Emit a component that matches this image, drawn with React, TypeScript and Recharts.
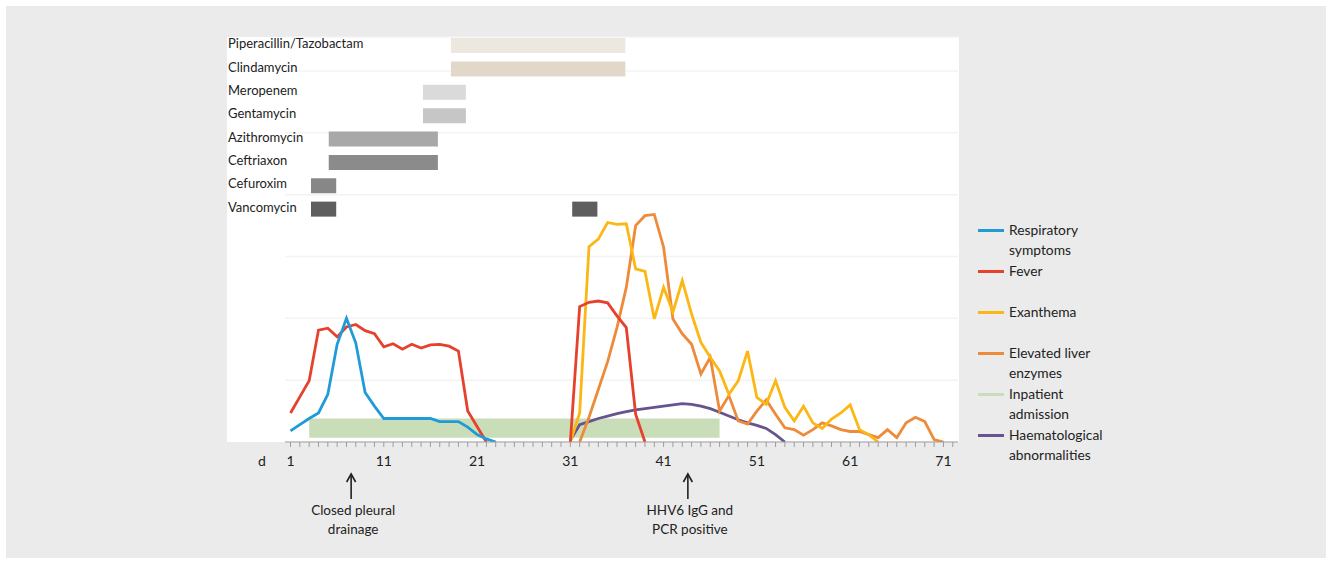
import React from 'react'
import {
  ComposedChart,
  BarChart,
  Bar,
  Cell,
  Line,
  Area,
  XAxis,
  YAxis,
  CartesianGrid,
  ReferenceDot,
} from 'recharts'

const FONT = 'Lato, "Noto Sans", sans-serif'
const TEXT = '#222'

// x axis: days of illness
const firstDay = 1
const lastDay = 72
const labelledDays = [1, 11, 21, 31, 41, 51, 61, 71]

// symptom curves (relative intensity), one value per day from the start day
const respiratoryStart = 1
const respiratory = [0.18, 0.28, 0.38, 0.47, 0.77, 1.58, 2.0, 1.6, 0.8, 0.58, 0.38, 0.38, 0.38, 0.38, 0.38, 0.38, 0.33, 0.33, 0.33, 0.24, 0.12, 0.05, 0]

const feverStart = 1
const fever = [
  0.47, 0.73, 0.99, 1.81, 1.84, 1.7, 1.86, 1.9, 1.8, 1.75, 1.54, 1.59, 1.5, 1.58, 1.52, 1.57, 1.58, 1.55, 1.47, 0.5, 0.25, 0,
  null, null, null, null, null, null, null, null,
  0, 2.19, 2.26, 2.28, 2.25, 2.04, 1.85, 0.45, 0,
]

const exanthemaStart = 31
const exanthema = [0, 0.47, 3.16, 3.28, 3.55, 3.52, 3.53, 2.8, 2.76, 1.99, 2.5, 2.1, 2.61, 2.07, 1.61, 1.37, 1.15, 0.77, 0.99, 1.47, 0.72, 0.61, 0.99, 0.56, 0.34, 0.58, 0.31, 0.22, 0.37, 0.47, 0.6, 0.2, 0.12, 0]

const liverStart = 32
const liver = [0, 0.4, 0.85, 1.3, 1.85, 2.5, 3.5, 3.66, 3.68, 3.15, 1.99, 1.75, 1.58, 1.1, 1.37, 0.5, 0.75, 0.34, 0.29, 0.5, 0.68, 0.45, 0.23, 0.2, 0.11, 0.2, 0.31, 0.26, 0.2, 0.17, 0.17, 0.12, 0.07, 0.2, 0.07, 0.31, 0.4, 0.33, 0.04, 0]

const haemStart = 31
const haem = [0.03, 0.28, 0.33, 0.38, 0.42, 0.46, 0.49, 0.52, 0.54, 0.56, 0.58, 0.6, 0.62, 0.61, 0.58, 0.54, 0.48, 0.42, 0.36, 0.31, 0.27, 0.22, 0.12, 0]

// inpatient stay
const admissionDay = 3
const dischargeDay = 47
const admissionBand = [0.07, 0.38]

// antibiotic courses (days)
const drugs = ['Piperacillin/Tazobactam', 'Clindamycin', 'Meropenem', 'Gentamycin', 'Azithromycin', 'Ceftriaxon', 'Cefuroxim', 'Vancomycin']
const courseStart = [18.2, 18.2, 15.2, 15.2, 5.1, 5.1, 3.2, 3.2]
const courseEnd = [36.9, 36.9, 19.8, 19.8, 16.8, 16.8, 5.9, 5.9]
const secondStart = [null, null, null, null, null, null, null, 31.2]
const secondEnd = [null, null, null, null, null, null, null, 33.9]
const drugColors = ['#ede8df', '#e2d8c9', '#dadada', '#c6c6c6', '#a8a8a8', '#8b8b8b', '#878787', '#5e5e5e']

// events marked under the axis
const events = [
  { day: 7.5, text: ['Closed pleural', 'drainage'] },
  { day: 43.6, text: ['HHV6 IgG and', 'PCR positive'] },
]

const legendLabels = [
  ['Respiratory', 'symptoms'],
  ['Fever'],
  ['Exanthema'],
  ['Elevated liver', 'enzymes'],
  ['Inpatient', 'admission'],
  ['Haematological', 'abnormalities'],
]
const legendColors = ['#1f9bd7', '#e5412d', '#fbb714', '#ee8b3a', '#c9deb8', '#65548f']

const COLORS = {
  respiratory: '#1f9bd7',
  fever: '#e5412d',
  exanthema: '#fbb714',
  liver: '#ee8b3a',
  haem: '#65548f',
  inpatient: '#b7d3a0',
}

const X_DOMAIN: [number, number] = [0.41, 72.56]
const LINE_W = 2.8

function valueAt(series: (number | null)[], start: number, day: number) {
  const i = day - start
  if (i < 0 || i >= series.length) return undefined
  const v = series[i]
  return v == null ? undefined : v
}

const days: number[] = []
for (let d = firstDay; d <= lastDay; d++) days.push(d)

const rows = days.map(day => ({
  day,
  respiratory: valueAt(respiratory, respiratoryStart, day),
  fever: valueAt(fever, feverStart, day),
  exanthema: valueAt(exanthema, exanthemaStart, day),
  liver: valueAt(liver, liverStart, day),
  haem: valueAt(haem, haemStart, day),
  inpatient: day >= admissionDay && day <= dischargeDay ? admissionBand : undefined,
}))

const ganttRows = drugs.map((name, i) => ({
  name,
  first: [courseStart[i], courseEnd[i]],
  second: secondStart[i] != null ? [secondStart[i], secondEnd[i]] : null,
}))

function DayTick(props: any) {
  const { x, y, payload } = props
  if (!labelledDays.includes(payload.value)) return null
  return (
    <text x={x} y={y} dy={17} textAnchor="middle" fontSize={14} fill={TEXT} fontFamily={FONT}>
      {payload.value}
    </text>
  )
}

function DrugTick(props: any) {
  const { y, payload } = props
  return (
    <text x={228} y={y} dy={2.5} textAnchor="start" fontSize={13} fill={TEXT} fontFamily={FONT}>
      {payload.value}
    </text>
  )
}

function eventShape(text: string[]) {
  return (props: any) => {
    const { cx, cy } = props
    return (
      <g>
        <line x1={cx} y1={cy + 32} x2={cx} y2={cy + 57} stroke={TEXT} strokeWidth={1.6} />
        <path
          d={`M${cx - 4.5},${cy + 40} L${cx},${cy + 32} L${cx + 4.5},${cy + 40}`}
          fill="none"
          stroke={TEXT}
          strokeWidth={1.6}
        />
        {text.map((t, i) => (
          <text key={t} x={cx + 2} y={cy + 73 + i * 19} textAnchor="middle" fontSize={13.5} fill={TEXT} fontFamily={FONT}>
            {t}
          </text>
        ))}
      </g>
    )
  }
}

export default function App() {
  return (
    <div style={{ position: 'absolute', left: 0, top: 0, width: 1332, height: 564, background: '#fff', fontFamily: FONT }}>
      <div style={{ position: 'absolute', left: 6, top: 6, width: 1320, height: 552, background: '#ebebeb' }} />
      <div style={{ position: 'absolute', left: 227, top: 37, width: 732, height: 405, background: '#fff' }} />

      <div style={{ position: 'absolute', left: 0, top: 0 }}>
        <ComposedChart width={1332} height={564} data={rows} margin={{ top: 37, right: 374, bottom: 92, left: 285 }}>
          <CartesianGrid horizontal vertical={false} stroke="#f3f3f3" strokeWidth={1.5} />
          <XAxis
            type="number"
            dataKey="day"
            domain={X_DOMAIN}
            allowDataOverflow
            ticks={days}
            interval={0}
            height={30}
            tickSize={5}
            tick={<DayTick />}
            axisLine={{ stroke: '#9c9c9c' }}
            tickLine={{ stroke: '#9c9c9c' }}
          />
          <YAxis hide domain={[0, 6.55]} ticks={[0, 1, 2, 3, 4, 5, 6]} allowDataOverflow />
          <Line dataKey="haem" stroke={COLORS.haem} strokeWidth={LINE_W} dot={false} isAnimationActive={false} />
          <Line dataKey="liver" stroke={COLORS.liver} strokeWidth={LINE_W} dot={false} isAnimationActive={false} />
          <Line dataKey="exanthema" stroke={COLORS.exanthema} strokeWidth={LINE_W} dot={false} isAnimationActive={false} />
          <Line dataKey="fever" stroke={COLORS.fever} strokeWidth={LINE_W} dot={false} isAnimationActive={false} />
          <Line dataKey="respiratory" stroke={COLORS.respiratory} strokeWidth={LINE_W} dot={false} isAnimationActive={false} />
          <Area
            dataKey="inpatient"
            stroke="none"
            fill={COLORS.inpatient}
            fillOpacity={0.75}
            isAnimationActive={false}
          />
          {events.map(ev => (
            <ReferenceDot key={ev.day} x={ev.day} y={0} ifOverflow="visible" shape={eventShape(ev.text)} />
          ))}
        </ComposedChart>
      </div>

      <div style={{ position: 'absolute', left: 0, top: 0 }}>
        <BarChart
          width={1332}
          height={564}
          layout="vertical"
          data={ganttRows}
          barSize={15}
          barGap={-15}
          margin={{ top: 34, right: 374, bottom: 343, left: 227 }}
        >
          <XAxis type="number" domain={X_DOMAIN} allowDataOverflow hide />
          <YAxis type="category" dataKey="name" width={58} axisLine={false} tickLine={false} tick={<DrugTick />} />
          <Bar dataKey="first" isAnimationActive={false}>
            {ganttRows.map((r, i) => (
              <Cell key={r.name} fill={drugColors[i]} />
            ))}
          </Bar>
          <Bar dataKey="second" isAnimationActive={false}>
            {ganttRows.map((r, i) => (
              <Cell key={r.name} fill={drugColors[i]} />
            ))}
          </Bar>
        </BarChart>
      </div>

      <div style={{ position: 'absolute', left: 258, top: 452, fontSize: 14, color: TEXT }}>d</div>

      <div style={{ position: 'absolute', left: 978, top: 220 }}>
        {legendLabels.map((lines, i) => (
          <div key={lines[0]} style={{ position: 'relative', height: 41 }}>
            <div style={{ position: 'absolute', left: 0, top: 9, width: 26, height: 3, background: legendColors[i] }} />
            <div style={{ position: 'absolute', left: 31, top: 0, fontSize: 13.8, lineHeight: '20px', color: TEXT, whiteSpace: 'nowrap' }}>
              {lines.map(l => (
                <div key={l}>{l}</div>
              ))}
            </div>
          </div>
        ))}
      </div>
    </div>
  )
}
